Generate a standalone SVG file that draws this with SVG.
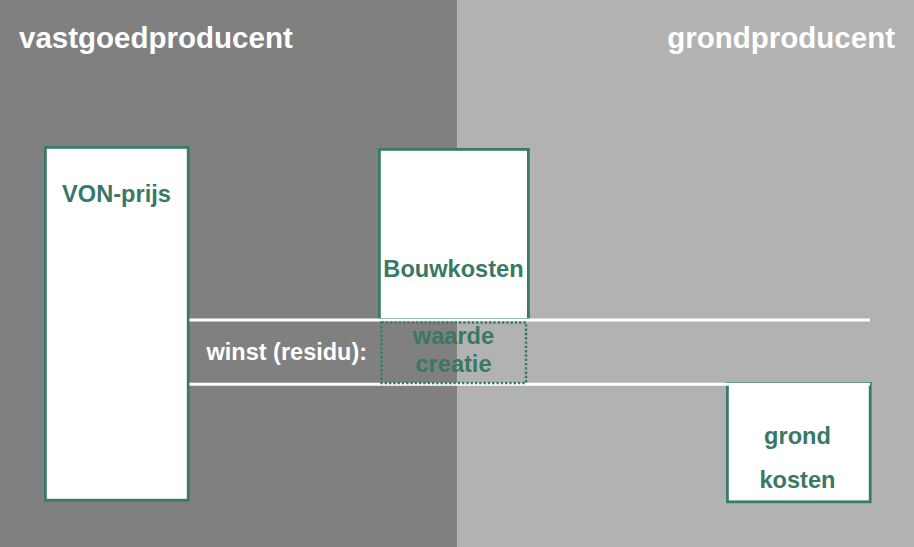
<svg xmlns="http://www.w3.org/2000/svg" width="914" height="547" viewBox="0 0 914 547">
<style>
.title{font-family:"Liberation Sans",Arial,sans-serif;font-weight:bold;font-size:29.5px;fill:#ffffff}
.lbl{font-family:"Liberation Sans",Arial,sans-serif;font-weight:bold;font-size:23.6px;fill:#3a7866;text-anchor:middle}
.wlbl{font-family:"Liberation Sans",Arial,sans-serif;font-weight:bold;font-size:23.5px;fill:#ffffff}
.box{fill:#ffffff;stroke:#3a7a68;stroke-width:2.8}
.wline{stroke:#ffffff;stroke-width:3;fill:none}
.dot{fill:none;stroke:#3a7a68;stroke-width:2.5;stroke-dasharray:2.4 1.9}
</style>
<g id="background">
<rect x="0" y="0" width="457.5" height="547" fill="#808080"/>
<rect x="457.5" y="0" width="456.5" height="547" fill="#b2b2b2"/>
</g>
<g id="titles">
<text class="title" x="19" y="48">vastgoedproducent</text>
<text class="title" x="895" y="48" text-anchor="end">grondproducent</text>
</g>
<g id="von-prijs">
<rect class="box" x="45.4" y="147.4" width="142.8" height="352.8"/>
<text class="lbl" x="116.5" y="202">VON-prijs</text>
</g>
<g id="bouwkosten">
<rect class="box" x="379.4" y="149.4" width="149" height="170"/>
<text class="lbl" x="453.5" y="277">Bouwkosten</text>
</g>
<g id="grondkosten">
<rect class="box" x="727.4" y="383.4" width="142.8" height="118.4"/>
<text class="lbl" x="797.5" y="444">grond</text>
<text class="lbl" x="797.5" y="487.5">kosten</text>
</g>
<g id="connectors">
<line class="wline" x1="189.5" y1="320" x2="870" y2="320"/>
<line class="wline" x1="189.5" y1="384.3" x2="870" y2="384.3"/>
</g>
<g id="waardecreatie">
<rect class="dot" x="381.5" y="322.5" width="144.5" height="60.5"/>
<text class="lbl" x="453.5" y="343.5">waarde</text>
<text class="lbl" x="453.5" y="372">creatie</text>
</g>
<g id="winst">
<text class="wlbl" x="206.5" y="359.5">winst (residu):</text>
</g>
</svg>
